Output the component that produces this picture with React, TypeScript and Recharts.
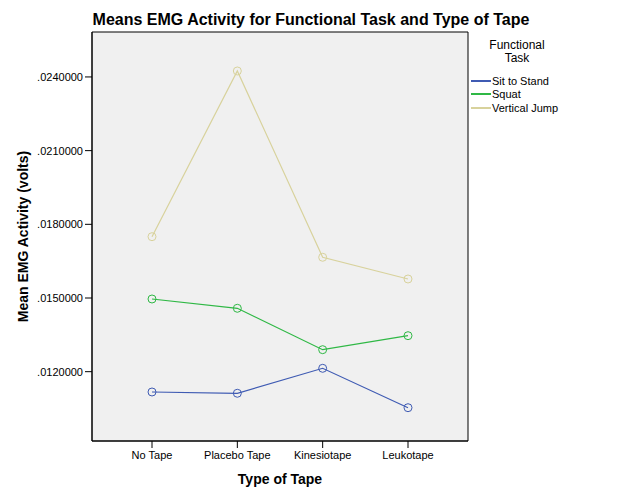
import React from 'react';
import { LineChart, Line, XAxis, YAxis, CartesianGrid, Legend, Label } from 'recharts';

const tapeTypes = ['No Tape', 'Placebo Tape', 'Kinesiotape', 'Leukotape'];
const sitToStand = [0.011173, 0.011121, 0.012138, 0.010534];
const squat = [0.01496, 0.014581, 0.012896, 0.013466];
const verticalJump = [0.017497, 0.024243, 0.016658, 0.015774];
const yTicks = [0.012, 0.015, 0.018, 0.021, 0.024];

const series = [
  { key: 'sit', name: 'Sit to Stand', color: '#3f5bb3', values: sitToStand },
  { key: 'squat', name: 'Squat', color: '#2fb845', values: squat },
  { key: 'jump', name: 'Vertical Jump', color: '#d8d29c', values: verticalJump },
];

const data = tapeTypes.map((t, i) => ({
  tape: t,
  sit: sitToStand[i],
  squat: squat[i],
  jump: verticalJump[i],
}));

const font = 'Arial, "Liberation Sans", sans-serif';

const fmt = (v: number) => v.toFixed(7).replace(/^0/, '');

function LegendBox() {
  return (
    <div style={{ fontFamily: font, color: '#000' }}>
      <div style={{ width: 92, textAlign: 'center', fontSize: 12, lineHeight: '13px' }}>
        Functional
        <br />
        Task
      </div>
      <div style={{ marginTop: 9 }}>
        {series.map((s) => (
          <div key={s.key} style={{ display: 'flex', alignItems: 'center', height: 13.5, fontSize: 11 }}>
            <span style={{ display: 'inline-block', width: 20, height: 0, borderTop: `2px solid ${s.color}`, marginRight: 1 }} />
            <span>{s.name}</span>
          </div>
        ))}
      </div>
    </div>
  );
}

export default function App() {
  return (
    <div style={{ position: 'absolute', left: 0, top: 0, width: 626, height: 501, background: '#fff', fontFamily: font }}>
      <div
        style={{
          position: 'absolute',
          left: 0,
          width: 622,
          top: 10,
          textAlign: 'center',
          fontSize: 16,
          fontWeight: 'bold',
          lineHeight: '20px',
        }}
      >
        Means EMG Activity for Functional Task and Type of Tape
      </div>
      <LineChart width={626} height={501} data={data} margin={{ top: 32, right: 158, bottom: 0, left: 0 }}>
        <CartesianGrid
          fill="#f0f0f0"
          stroke="#000"
          strokeWidth={1}
          horizontalCoordinatesGenerator={({ offset }: any) => [offset.top, offset.top + offset.height]}
          verticalCoordinatesGenerator={({ offset }: any) => [offset.left, offset.left + offset.width]}
        />
        <XAxis
          dataKey="tape"
          height={60}
          padding={{ left: 60, right: 60 }}
          tickSize={7}
          tickMargin={3}
          stroke="#000"
          tick={{ fill: '#000', fontSize: 11, fontFamily: font }}
        >
          <Label
            content={({ viewBox }: any) => (
              <text
                x={viewBox.x + viewBox.width / 2}
                y={479}
                textAnchor="middle"
                dominantBaseline="central"
                fontSize={14}
                fontWeight="bold"
                fontFamily={font}
                fill="#000"
              >
                Type of Tape
              </text>
            )}
          />
        </XAxis>
        <YAxis
          width={92}
          domain={[0.009178, 0.02583]}
          ticks={yTicks}
          tickFormatter={fmt}
          tickSize={7}
          tickMargin={2}
          stroke="#000"
          tick={{ fill: '#000', fontSize: 11, fontFamily: font }}
          allowDataOverflow
        >
          <Label
            content={({ viewBox }: any) => {
              const cx = 23;
              const cy = viewBox.y + viewBox.height / 2;
              return (
                <text
                  x={cx}
                  y={cy}
                  transform={`rotate(-90 ${cx} ${cy})`}
                  textAnchor="middle"
                  dominantBaseline="central"
                  fontSize={14}
                  fontWeight="bold"
                  fontFamily={font}
                  fill="#000"
                >
                  Mean EMG Activity (volts)
                </text>
              );
            }}
          />
        </YAxis>
        <Legend
          layout="vertical"
          align="center"
          verticalAlign="middle"
          content={() => <LegendBox />}
          wrapperStyle={{ left: 471, top: 39, width: 150 }}
        />
        {series.map((s) => (
          <Line
            key={s.key}
            dataKey={s.key}
            name={s.name}
            stroke={s.color}
            strokeWidth={1.2}
            type="linear"
            dot={{ r: 4, fill: 'none', stroke: s.color, strokeWidth: 1 }}
            activeDot={false}
            isAnimationActive={false}
          />
        ))}
      </LineChart>
    </div>
  );
}
